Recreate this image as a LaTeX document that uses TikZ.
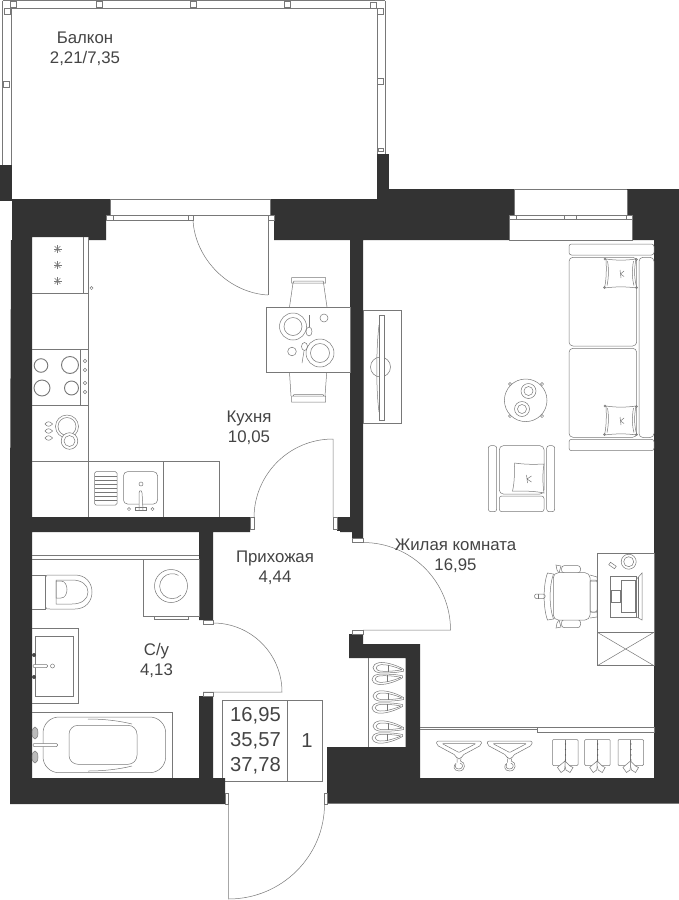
\documentclass[tikz,border=0pt]{standalone}
\usepackage{fontspec}
\setmainfont{Liberation Sans}
\definecolor{wallc}{HTML}{333333}
\definecolor{linec}{HTML}{787878}
\definecolor{textc}{HTML}{444444}
\tikzset{
  wall/.style={fill=wallc,draw=none},
  thin line/.style={draw=linec,line width=0.5pt},
  fix/.style={draw=linec,line width=0.5pt,fill=white},
  rlab/.style={text=textc,font=\fontsize{16.8}{20}\selectfont,align=center,inner sep=0pt},
  boxlab/.style={text=textc,font=\fontsize{20.2}{25}\selectfont,align=center,inner sep=0pt},
}
\newcommand{\shoeup}[1]{%
  \begin{scope}[shift={(0,#1)}]
  \draw[thin line] (403.5,1.5) .. controls (395,-3.5) and (384,-6) .. (379,-5) .. controls (371,-3.5) and (371,3.5) .. (379,5) .. controls (386,5.5) and (397,5) .. (403.5,3.5) -- cycle;
  \draw[thin line] (402,2) .. controls (394,-1.5) and (385,-3.5) .. (381,-3) .. controls (374.5,-2) and (374.5,2.5) .. (381,3.5) .. controls (387,3.8) and (395,3.5) .. (402,2);
  \draw[thin line] (388,-3) -- (388,4);
  \end{scope}}
\newcommand{\shoedown}[1]{%
  \begin{scope}[shift={(-1,#1)}]
  \draw[thin line] (403.5,-1.5) .. controls (395,3.5) and (384,6) .. (379,5) .. controls (371,3.5) and (371,-3.5) .. (379,-5) .. controls (386,-5.5) and (397,-5) .. (403.5,-3.5) -- cycle;
  \draw[thin line] (402,-2) .. controls (394,1.5) and (385,3.5) .. (381,3) .. controls (374.5,2) and (374.5,-2.5) .. (381,-3.5) .. controls (387,-3.8) and (395,-3.5) .. (402,-2);
  \draw[thin line] (388,3) -- (388,-4);
  \end{scope}}
\newcommand{\pillow}[2]{%
  \begin{scope}[shift={(#1,#2)}]
  \draw[thin line] (0,0) .. controls (10,1.5) and (20,1.5) .. (30,0) .. controls (28,10) and (28,20) .. (31,29) .. controls (20,27.5) and (10,27.5) .. (-1.5,29) .. controls (0.5,20) and (0.5,10) .. (0,0) -- cycle;
  \draw[thin line] (1.5,2) .. controls (3,10) and (2.5,20) .. (1,26.5) (27.5,2) .. controls (26,10) and (26,20) .. (28,26.5);
  \draw[thin line] (-1,0) circle (1) (30.5,0.5) circle (1) (-1.5,28.5) circle (1) (30.5,28.5) circle (1);
  \draw[thin line] (14,11) -- (15,19) (14.5,15) -- (18,12) (14.5,15) -- (18,17.5);
  \end{scope}}
\newcommand{\hanger}[1]{%
  \begin{scope}[xshift=#1]
  \draw[thin line,rounded corners=2pt] (436.5,741) -- (481.5,741) -- (481.5,745) -- (462,755.5) -- (461,759) -- (457,759) -- (456,755.5) -- (436.5,745) -- cycle;
  \draw[thin line,rounded corners=1pt] (442,743.5) -- (476,743.5) -- (459,752.5) -- cycle;
  \draw[thin line] (461,759) -- (460.5,761) .. controls (466,762) and (466,771) .. (459,771) .. controls (453,771) and (453,765) .. (456,763.5);
  \draw[thin line] (457,759) -- (457,762.5) (460,763) .. controls (464,764) and (463,769) .. (459,769) .. controls (455,769) and (454.5,765.5) .. (456,763.5);
  \end{scope}}
\newcommand{\shirt}[1]{%
  \begin{scope}[xshift=#1]
  \draw[thin line,rounded corners=1pt] (552.5,739.5) rectangle (578,765.5);
  \draw[thin line] (565,739.5) -- (565,762);
  \foreach \dy in {744,749.5,755,760}{\fill[linec!70!black] (565.5,\dy) circle (0.7);}
  \draw[thin line,fill=white] (565,761) -- (559,766) -- (557.5,767.5) -- (561,772.5) -- (564.5,770) -- (565,766) -- cycle;
  \draw[thin line,fill=white] (565,761) -- (570,766) -- (573,767.5) -- (570,772.5) -- (566,770) -- (565,766) -- cycle;
  \end{scope}}
\begin{document}
\begin{tikzpicture}[x=1pt,y=-1pt]
\useasboundingbox (0,0) rectangle (679,900);
\fill[white] (0,0) rectangle (679,900);
% balcony rails
\draw[thin line] (2.5,0.5) -- (385,0.5) (11.5,8) -- (377.5,8);
\draw[thin line] (2.5,0.5) -- (2.5,165) (11.5,8) -- (11.5,165);
\draw[thin line] (377.5,8) -- (377.5,154) (385,0.5) -- (385,154);
\foreach \px/\py in {7/11,6/84,13/4.5,99/4.5,193/4.5,287/4.5,373/5,380.5/11,380.5/81}{
  \draw[fix] (\px-2.9,\py-2.9) rectangle (\px+2.9,\py+2.9);}
\draw[fix] (378,148) rectangle (383,151);
% info box (under walls)
\draw[thin line] (222,700) rectangle (322.5,781);
\draw[thin line] (287,700) -- (287,781);
% walls
\fill[wall] (0,165) rectangle (11.5,200.5);
\fill[wall] (377.3,154) rectangle (388.7,199);
\fill[wall] (12,199) -- (110,199) -- (110,215) -- (106,215) -- (106,240) -- (88,240) -- (88,237) -- (32,237) -- (32,517) -- (250,517) -- (250,532) -- (213,532) -- (213,620) -- (199,620) -- (199,532) -- (32,532) -- (32,778) -- (199,778) -- (199,696) -- (213,696) -- (213,778) -- (225,778) -- (225,804) -- (10,804) -- (10,517) -- (11,240) -- (12,240) -- cycle;
\fill[wall] (270,199) -- (377.3,199) -- (377.3,189) -- (514,189) -- (514,215) -- (509.5,215) -- (509.5,240) -- (363,240) -- (363,538) -- (352,538) -- (352,532) -- (340,532) -- (340,518) -- (350,518) -- (350,240) -- (274,240) -- (274,215) -- (270,215) -- cycle;
\fill[wall] (336.5,517) rectangle (350,531);
\fill[wall] (627,189) -- (679,189) -- (679,803.5) -- (327,803.5) -- (327,747) -- (405.5,747) -- (405.5,658) -- (349,658) -- (349,634) -- (363,634) -- (363,644) -- (420,644) -- (420,778) -- (654,778) -- (654,240) -- (632,240) -- (632,215) -- (627,215) -- cycle;
% balcony door and window
\draw[thin line] (110,199.5) -- (270,199.5);
\draw[fix] (106,215) rectangle (113,220);
\draw[fix] (113,215) rectangle (188,220);
\draw[fix] (188,215) rectangle (193,220);
\draw[fix] (268,215) rectangle (274,220);
\draw[thin line] (110,199) -- (110,215) (270,199) -- (270,215);
\draw[thin line] (193,215) -- (268,215) -- (268,295);
\draw[thin line] (193,220) .. controls (195,259) and (229,293) .. (268,295);
% living room window
\draw[thin line] (514,189.5) -- (627,189.5) (514,189.5) -- (514,215) (627,189.5) -- (627,215);
\draw[fix] (509.5,215) rectangle (516,219);
\draw[fix] (516,215) rectangle (564.5,219);
\draw[fix] (564.5,215) rectangle (576.5,219);
\draw[fix] (576.5,215) rectangle (626,219);
\draw[fix] (626,215) rectangle (632,219);
\draw[thin line] (509.5,219) -- (509.5,240) -- (632,240) -- (632,219);
% internal doors
\draw[fix] (250.5,517) rectangle (254,529);
\draw[fix] (333,517) rectangle (337,529);
\draw[thin line] (333,517) -- (333,439) arc[start angle=270,end angle=180,radius=79];
\draw[fix] (352,538) rectangle (363,542);
\draw[fix] (352,630) rectangle (363,634);
\draw[thin line] (363,630) -- (450.5,630) arc[start angle=0,end angle=-90,radius=87.5];
\draw[fix] (203,620) rectangle (213,624);
\draw[fix] (203,692) rectangle (213,696);
\draw[thin line] (203,692) -- (282,692) arc[start angle=0,end angle=-90,radius=69];
% entrance
\draw[fix] (225,793) rectangle (228.5,804);
\draw[fix] (324,793) rectangle (327,804);
\draw[thin line] (228.5,804) -- (228.5,899) arc[start angle=90,end angle=0,x radius=96, y radius=95];
% kitchen furniture
\draw[thin line] (88,237) -- (88,461.5);
\draw[thin line] (83,237) -- (83,293) (32,293.5) -- (88,293.5);
\foreach \sy in {249,265,281}{
  \foreach \a in {0,45,90,135}{
    \draw[thin line] (57.5,\sy) +(\a:4) -- +(\a+180:4);}
  \fill[linec] (57.5,\sy) circle (1);}
\draw[thin line] (91.5,288) circle (1.6);
\draw[thin line] (32,349.5) -- (88,349.5) (32,405) -- (88,405) (80.5,349.5) -- (80.5,405);
\draw[linec,line width=0.9pt] (41,365.5) circle (6.8) (70,365) circle (8.5) (42,388) circle (8) (71.5,388) circle (7);
\foreach \ky in {361,370,383,392}{\draw[thin line] (85,\ky) circle (1.7);}
\draw[thin line] (67,426.5) circle (11.5) (67,426.5) circle (9);
\draw[thin line,fill=white] (69.5,441) circle (8.3) (69.5,441) circle (5.5);
\foreach \dy in {424,431,438}{
  \draw[thin line] (45,\dy) .. controls (47,\dy-3) and (50,\dy-3) .. (52.5,\dy) .. controls (50,\dy+3) and (47,\dy+3) .. (45,\dy) -- cycle;}
\draw[thin line] (32,461.5) -- (219.5,461.5) -- (219.5,517) (88,461.5) -- (88,517) (163,461.5) -- (163,517);
\draw[thin line,rounded corners=1.5pt] (94.5,471.7) rectangle (117,505);
\foreach \ly in {476,480,484,488,492,496,500}{\draw[thin line] (94.5,\ly) -- (117,\ly);}
\draw[thin line,rounded corners=4pt] (123.5,471.7) rectangle (157.5,504);
\draw[thin line] (141,484) circle (2) (129,509) circle (1.6) (152.5,509) circle (1.6);
\draw[thin line,fill=white,rounded corners=1pt] (139,510) -- (139,492) -- (140.5,490) -- (142,492) -- (143,510);
\draw[thin line] (135.5,510.5) rectangle (146.5,507.5);
% table
\draw[thin line] (289.5,307) -- (293,283) (327,307) -- (323.5,283);
\draw[thin line] (289.5,372.5) -- (291,396) (326.7,372.5) -- (325,396);
\draw[thin line] (291.5,277.5) rectangle (325.5,283) (293,283) -- (294,281) -- (323,281) -- (324,283);
\draw[thin line] (291.5,396) rectangle (325.5,402) (293,396) -- (294,394.5) -- (323,394.5) -- (324,396);
\draw[thin line] (266,307.5) rectangle (350,372.5);
\draw[thin line] (293,326.5) circle (13.5) (293,326.5) circle (9);
\draw[thin line] (320,353) circle (14) (320,353) circle (9.5);
\draw[thin line] (309,315) -- (309,327);
\draw[thin line] (309,331.5) ellipse (3 and 4.5);
\draw[thin line] (304.5,346.5) ellipse (3 and 4) (304,351) -- (302,363);
\draw[thin line] (324,318) circle (4) (292,351.5) circle (4.3);
% TV
\draw[thin line] (363,310.7) rectangle (401.5,423.3);
\draw[thin line] (380.5,367) circle (10);
\draw[thin line,fill=white] (379,315.5) rectangle (384.5,420);
\draw[thin line] (379,325) .. controls (376,350) and (376,390) .. (379,412);
% sofa
\tikzset{r2/.style={thin line,rounded corners=2.5pt}, r4/.style={thin line,rounded corners=4pt}}
\draw[r2] (569,244) rectangle (654,255);
\draw[r2] (569,439.3) rectangle (654,450.7);
\draw[r4] (569,257.3) rectangle (636.7,346);
\draw[r4] (569,348.3) rectangle (636.7,437.3);
\draw[r4] (639,257.3) rectangle (654,437.5);
\pillow{606}{259}
\pillow{606}{406}
% coffee table
\foreach \fx/\fy in {510/384,542/384,510/416,542/416}{\draw[thin line] (\fx,\fy) circle (1.6);}
\draw[thin line,fill=white] (525.7,400.3) circle (21.3);
\draw[thin line] (528.5,391) circle (7.5) (528.5,391) circle (4.5);
\draw[thin line] (522,409) circle (7.5) (522,409) circle (4.5);
% armchair
\draw[r2] (488.3,445.7) rectangle (496.7,511.7);
\draw[r2] (546.7,445.7) rectangle (554.7,511.7);
\draw[r4] (499.3,445.7) rectangle (544,494);
\draw[r2] (499.3,496) rectangle (544,511.7);
\begin{scope}[shift={(514.5,463)}]
\draw[thin line,fill=white] (0,0) .. controls (10,1.5) and (20,1.5) .. (29.5,1) .. controls (28,10) and (28,20) .. (29.5,30) .. controls (20,28) and (10,28) .. (-2,28) .. controls (0,20) and (0,10) .. (0,0) -- cycle;
\draw[thin line] (12,12) -- (13,20) (12.5,16) -- (17,13) (12.5,16) -- (17,19);
\end{scope}
% desk
\draw[thin line] (597.3,553.3) rectangle (654,632.3);
\draw[thin line] (597.3,632.3) rectangle (654,665.7);
\draw[thin line] (597.3,632.3) -- (654,665.7) (597.3,665.7) -- (654,632.3);
\draw[thin line] (628.7,561.7) circle (7.5) (628.7,561.7) circle (5);
\draw[thin line,rotate around={-35:(612.5,565.5)}] (609,564) rectangle (616,567);
\draw[thin line] (610,576.7) rectangle (636.7,617);
\draw[thin line] (621.7,580.7) rectangle (635,612.7);
\draw[thin line] (611.7,590.7) rectangle (620,602.7);
\draw[thin line] (636.7,579) -- (642,573) -- (642,620) -- (636.7,617);
\draw[thin line] (638.5,577) -- (638.5,618);
% office chair
\draw[thin line,rounded corners=3pt] (561.5,565.5) rectangle (580.5,573);
\draw[thin line,rounded corners=3pt] (561.5,619.5) rectangle (580.5,627.7);
\draw[thin line] (556,565) -- (561,566) -- (559,573) -- (557,570) -- cycle (556,628) -- (561,627) -- (559,620) -- (557,623) -- cycle;
\draw[thin line,fill=white,rounded corners=5pt] (553.3,572.7) rectangle (590,620);
\draw[thin line,rounded corners=2pt] (590,580) rectangle (597,612);
\draw[thin line] (590,575) -- (597,577) -- (597,581) -- (590,581) (590,612) -- (597,612) -- (597,617) -- (590,618);
\draw[thin line] (547.5,573) .. controls (543,585) and (543,608) .. (547.5,620) -- (553.5,619) .. controls (549,607) and (549,586) .. (553.5,574) -- cycle;
\draw[thin line,rounded corners=1.5pt] (534.5,594) rectangle (545,598.5);
\draw[thin line] (538.5,594) -- (538.5,598.5);
% closet
\draw[thin line] (368,658) -- (368,747);
\shoeup{667.7}
\shoedown{679.3}
\shoeup{696}
\shoedown{708}
\shoeup{726}
\shoedown{738}
% wardrobe
\draw[thin line] (420,727) -- (537,727) (420,729) -- (537,729);
\draw[thin line] (537,727.3) rectangle (654,732.5);
\hanger{0}
\hanger{50.7}
\shirt{0}
\shirt{32.2}
\shirt{65.5}
% bathroom
\draw[thin line] (32,555) -- (199,555) (32,559) -- (199,559);
\draw[thin line] (143.3,559) rectangle (199,616);
\draw[thin line] (154.3,616) rectangle (188.3,619.5);
\draw[thin line] (171,586) circle (16.5);
\draw[thin line] (181,595) arc[start angle=45,end angle=300,radius=12.5];
\draw[thin line] (32,575) -- (45.7,575) -- (45.7,609) -- (32,609);
\draw[thin line] (45.7,577) .. controls (46,575) and (47,575) .. (50,575) -- (75,575) .. controls (86,575) and (92,583) .. (92,592) .. controls (92,601) and (86,609) .. (75,609) -- (50,609) .. controls (47,609) and (46,609) .. (45.7,607) -- cycle;
\draw[thin line] (56,580) -- (72,580) .. controls (82,580) and (88,585) .. (88,592) .. controls (88,599) and (82,604) .. (72,604) -- (56,604) -- cycle;
\draw[thin line] (56,581) -- (61,581) .. controls (69,581) and (69,598) .. (61,598) -- (56,598) -- cycle;
\draw[thin line] (32,628.3) -- (78.7,628.3) -- (78.7,703.3) -- (32,703.3);
\draw[thin line] (35.7,636) rectangle (73.7,696.3);
\draw[thin line,rounded corners=1pt,fill=white] (33,664.5) rectangle (47.5,667.5);
\draw[thin line] (52.5,666) circle (2);
\fill[linec!60!black] (34,655) circle (2) (34,677) circle (2);
\draw[thin line] (32,712.3) -- (172.7,712.3) -- (172.7,778);
\draw[thin line,rounded corners=16pt] (43,717) rectangle (165.7,772.7);
\draw[thin line,rounded corners=9pt] (69,725.3) rectangle (137,764.3);
\draw[thin line] (88,719) .. controls (105,719) and (120,721) .. (132,724);
\draw[thin line] (88,771) .. controls (105,771) and (120,769) .. (132,766);
\draw[thin line,rounded corners=1pt,fill=white] (33,743.5) rectangle (57.5,746.5);
\foreach \ky in {733,757}{\draw[linec,line width=0.5pt,fill=linec!50] (35,\ky) ellipse (3 and 6);}
% info box text
\node[boxlab] (a1) at (255.5,715.5) {16,95};
\node[boxlab] (a2) at (255.5,741) {35,57};
\node[boxlab] (a3) at (255.5,766) {37,78};
\node[boxlab] (a4) at (307,741) {1};
% labels
\node[rlab] (l1) at (85,49) {Балкон\\2,21/7,35};
\node[rlab] (l2) at (249,428) {Кухня\\10,05};
\node[rlab] (l3) at (275,568) {Прихожая\\4,44};
\node[rlab] (l4) at (455.5,556) {Жилая комната\\16,95};
\node[rlab] (l5) at (156.5,660) {С/у\\4,13};
\end{tikzpicture}
\end{document}
